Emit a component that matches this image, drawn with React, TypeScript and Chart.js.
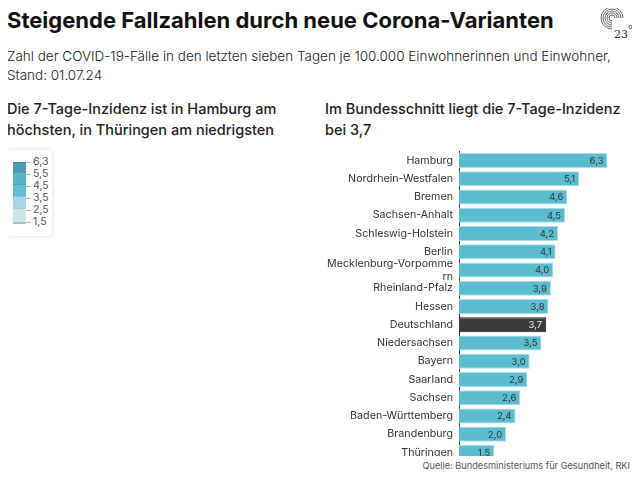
import React, { useEffect, useRef } from "react";
import { Chart, registerables } from "chart.js";

Chart.register(...registerables);

const categories: (string | string[])[] = [
  "Hamburg",
  "Nordrhein-Westfalen",
  "Bremen",
  "Sachsen-Anhalt",
  "Schleswig-Holstein",
  "Berlin",
  ["Mecklenburg-Vorpomme", "rn"],
  "Rheinland-Pfalz",
  "Hessen",
  "Deutschland",
  "Niedersachsen",
  "Bayern",
  "Saarland",
  "Sachsen",
  "Baden-Württemberg",
  "Brandenburg",
  "Thüringen",
];

const values: number[] = [6.3, 5.1, 4.6, 4.5, 4.2, 4.1, 4.0, 3.9, 3.8, 3.7, 3.5, 3.0, 2.9, 2.6, 2.4, 2.0, 1.5];

const legendTicks: string[] = ["6,3", "5,5", "4,5", "3,5", "2,5", "1,5"];
const legendColors: string[] = ["#4a9db2", "#57b3c7", "#5dc0d6", "#a3d9e4", "#c8e7ed"];

const FONT = "Inter, 'Noto Sans', sans-serif";
const BAR = "#5bbccf";
const HIGHLIGHT = "Deutschland";

const fmt = (v: number) => v.toFixed(1).replace(".", ",");

const valueLabels = {
  id: "valueLabels",
  afterDatasetsDraw(chart: any) {
    const ctx = chart.ctx;
    const meta = chart.getDatasetMeta(0);
    ctx.save();
    ctx.font = `9.5px ${FONT}`;
    ctx.textAlign = "right";
    ctx.textBaseline = "middle";
    meta.data.forEach((bar: any, i: number) => {
      const isHl = categories[i] === HIGHLIGHT;
      ctx.fillStyle = isHl ? "#eeeeee" : "#333333";
      ctx.fillText(fmt(values[i]), bar.x - 4, bar.y + 0.5);
    });
    ctx.restore();
  },
};

function BarChart() {
  const ref = useRef<HTMLCanvasElement | null>(null);
  useEffect(() => {
    if (!ref.current) return;
    const chart = new Chart(ref.current, {
      type: "bar",
      data: {
        labels: categories as any,
        datasets: [
          {
            data: values,
            backgroundColor: categories.map((c) => (c === HIGHLIGHT ? "#3c3c3c" : BAR)),
            borderColor: categories.map((c) => (c === HIGHLIGHT ? "#222222" : "#a9dde8")),
            borderWidth: 1,
            borderSkipped: "left",
            barPercentage: 0.82,
            categoryPercentage: 1,
          },
        ],
      },
      options: {
        indexAxis: "y",
        animation: false,
        responsive: true,
        maintainAspectRatio: false,
        layout: { padding: 0 },
        plugins: { legend: { display: false }, tooltip: { enabled: false } },
        scales: {
          x: { display: false, min: 0, max: 7 },
          y: {
            grid: { display: false, drawTicks: false },
            border: { display: true, color: "#333333", width: 1 },
            ticks: {
              color: "#333333",
              font: { family: FONT, size: 10.7, lineHeight: 1.2 },
              padding: 6,
              autoSkip: false,
            },
            afterFit: (scale: any) => {
              scale.width = 139;
            },
          },
        },
      },
      plugins: [valueLabels],
    } as any);
    return () => chart.destroy();
  }, []);
  return (
    <div style={{ position: "relative", width: 304, height: 335 }}>
      <canvas ref={ref} />
    </div>
  );
}

function Legend() {
  const segTops = [162, 172, 184, 196, 208];
  const segBottoms = [172, 184, 196, 208, 222];
  const tickY = [162, 174, 186, 198, 210, 222];
  return (
    <div
      style={{
        position: "absolute",
        left: 8,
        top: 150,
        width: 44,
        height: 86,
        background: "#fff",
        boxShadow: "0 0 4px rgba(0,0,0,0.15)",
        borderRadius: 2,
      }}
    >
      {legendColors.map((c, i) => (
        <div
          key={i}
          style={{
            position: "absolute",
            left: 5,
            top: segTops[i] - 150,
            width: 13,
            height: segBottoms[i] - segTops[i],
            background: c,
            borderTop: "1px solid rgba(0,0,0,0.12)",
            boxSizing: "border-box",
          }}
        />
      ))}
      <div style={{ position: "absolute", left: 5, top: 222 - 150, width: 13, height: 2, background: "#bbb" }} />
      {legendTicks.map((t, i) => (
        <React.Fragment key={i}>
          <div
            style={{
              position: "absolute",
              left: 18,
              top: tickY[i] - 150,
              width: 5,
              height: 1,
              background: "#bbb",
            }}
          />
          <div
            style={{
              position: "absolute",
              left: 25,
              top: tickY[i] - 150 - 7,
              fontSize: 10.5,
              lineHeight: "14px",
              color: "#555",
              fontFamily: FONT,
            }}
          >
            {t}
          </div>
        </React.Fragment>
      ))}
    </div>
  );
}

function Logo() {
  const cx = 14;
  const cy = 15;
  return (
    <svg
      width={40}
      height={42}
      viewBox="0 0 40 42"
      style={{ position: "absolute", left: 598, top: 3 }}
    >
      {[3, 5, 7, 9, 11].map((r) => (
        <path
          key={r}
          d={`M ${cx + r} ${cy} A ${r} ${r} 0 1 0 ${cx} ${cy + r}`}
          fill="none"
          stroke="#555"
          strokeWidth={0.9}
        />
      ))}
      <text x={16} y={35} fontFamily="'DejaVu Serif', serif" fontSize={11} fill="#333">
        23
      </text>
      <circle cx={32.5} cy={24} r={1.6} fill="none" stroke="#333" strokeWidth={0.8} />
    </svg>
  );
}

export default function App() {
  return (
    <div
      style={{
        position: "relative",
        width: 640,
        height: 480,
        margin: -8,
        background: "#fff",
        overflow: "hidden",
        fontFamily: FONT,
        color: "#222",
      }}
    >
      <div
        style={{
          position: "absolute",
          left: 7,
          top: 7,
          fontSize: 22,
          fontWeight: 700,
          color: "#111",
          whiteSpace: "nowrap",
        }}
      >
        Steigende Fallzahlen durch neue Corona-Varianten
      </div>
      <Logo />
      <div
        style={{
          position: "absolute",
          left: 7,
          top: 47,
          width: 630,
          fontSize: 13.5,
          fontWeight: 300,
          lineHeight: "19px",
          color: "#222",
          whiteSpace: "nowrap",
        }}
      >
        Zahl der COVID-19-Fälle in den letzten sieben Tagen je 100.000 Einwohnerinnen und Einwohner,
        <br />
        Stand: 01.07.24
      </div>
      <div
        style={{
          position: "absolute",
          left: 7,
          top: 98,
          fontSize: 14.5,
          fontWeight: 500,
          lineHeight: "21px",
          color: "#222",
          whiteSpace: "nowrap",
        }}
      >
        Die 7-Tage-Inzidenz ist in Hamburg am
        <br />
        höchsten, in Thüringen am niedrigsten
      </div>
      <div
        style={{
          position: "absolute",
          left: 325,
          top: 98,
          fontSize: 14.5,
          fontWeight: 500,
          lineHeight: "21px",
          color: "#222",
          whiteSpace: "nowrap",
        }}
      >
        Im Bundesschnitt liegt die 7-Tage-Inzidenz
        <br />
        bei 3,7
      </div>
      <Legend />
      <div style={{ position: "absolute", left: 320, top: 151, width: 304, height: 305, overflow: "hidden" }}>
        <div style={{ position: "absolute", left: 0, top: -12.5 }}>
          <BarChart />
        </div>
      </div>
      <div
        style={{
          position: "absolute",
          right: 10,
          top: 460,
          fontSize: 9.2,
          color: "#555",
          whiteSpace: "nowrap",
        }}
      >
        Quelle: Bundesministeriums für Gesundheit, RKI
      </div>
    </div>
  );
}
